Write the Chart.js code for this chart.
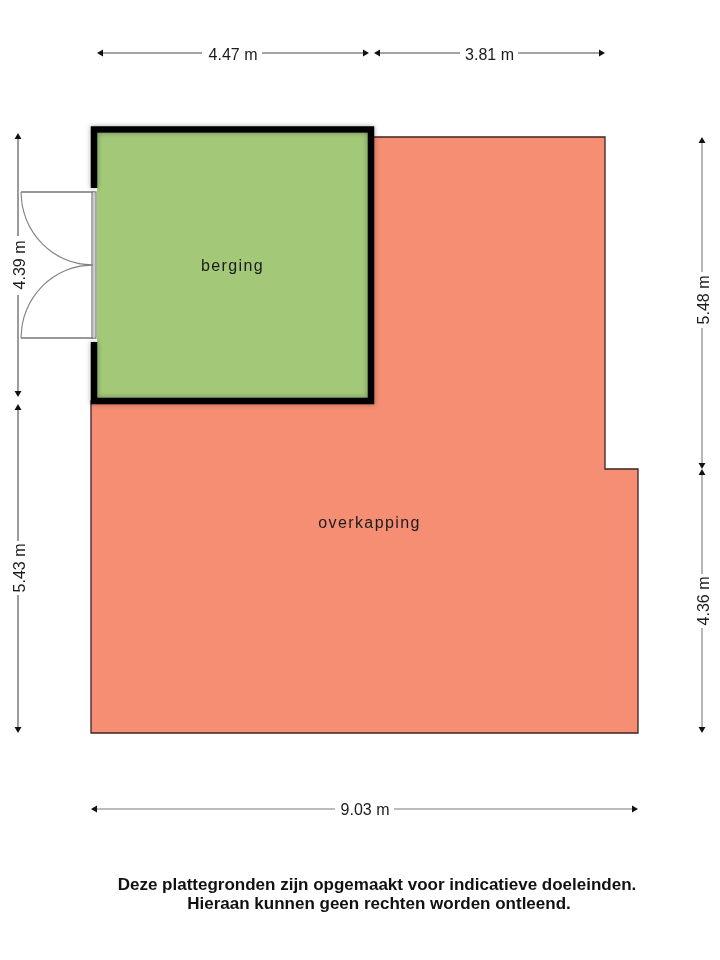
<!DOCTYPE html>
<html>
<head>
<meta charset="utf-8">
<style>
    html, body { margin: 0; padding: 0; background: #fff; }
    canvas { display: block; }
</style>
<script src="https://cdn.jsdelivr.net/npm/chart.js@4"></script>
</head>
<body>
<canvas id="plan" width="720" height="960"></canvas>
<script>
// room outlines (plan units = picture pixels)
const overkappingX = [371, 605, 605, 638, 638, 91, 91, 371, 371];
const overkappingY = [137, 137, 469, 469, 733, 733, 401, 401, 137];
const bergingX = [97, 368, 368, 97, 97];
const bergingY = [133, 133, 398, 398, 133];
const wallX = [94, 94, 371, 371, 94, 94];
const wallY = [188, 129.5, 129.5, 401, 401, 342];
const frameX = [92, 96, 96, 92, 92];
const frameY = [192, 192, 338, 338, 192];
const frameMidX = [94, 94];
const frameMidY = [192, 338];

// door leaves and swings
const doorTopX = [93, 21, 22.4, 26.5, 33.2, 42.1, 53, 65.4, 79, 93];
const doorTopY = [192, 192, 206.2, 220, 232.6, 243.6, 252.7, 259.5, 263.6, 265];
const doorBottomX = [93, 21, 22.4, 26.5, 33.2, 42.1, 53, 65.4, 79, 93];
const doorBottomY = [338, 338, 323.8, 310, 297.4, 286.4, 277.3, 270.5, 266.4, 265];

// dimension lines: each one runs from an arrow tip to the gap round its label
const dimStartX = [97, 369, 374, 605, 18, 18, 18, 18, 702, 702, 702, 702, 91, 638];
const dimStartY = [53, 53, 53, 53, 133, 397, 404, 733, 137, 469, 469, 733, 809, 809];
const dimEndX = [202, 262, 460, 518, 18, 18, 18, 18, 702, 702, 702, 702, 335, 394];
const dimEndY = [53, 53, 53, 53, 236, 295, 541, 595, 272, 328, 574, 628, 809, 809];

// texts
const dimLabels = ["4.47 m", "3.81 m", "4.39 m", "5.43 m", "5.48 m", "4.36 m", "9.03 m"];
const dimLabelX = [233, 489.5, 21, 21, 705, 705, 365];
const dimLabelY = [55.5, 55.5, 265, 568, 300, 601, 811];
const dimLabelTurn = [0, 0, -90, -90, -90, -90, 0];
const roomLabels = ["berging", "overkapping"];
const roomLabelX = [232.5, 369.5];
const roomLabelY = [267, 524];
const noteLines = ["Deze plattegronden zijn opgemaakt voor indicatieve doeleinden.", "Hieraan kunnen geen rechten worden ontleend."];
const noteX = [377, 379];
const noteY = [885, 904];

const ARROW = 4;
const DIM_DARK = "#4a4a4a";
const DIM_LIGHT = "#7a7a7a";

function points(xs, ys) {
    return xs.map((x, i) => ({ x: x, y: ys[i] }));
}

function shape(xs, ys, fillColor, lineColor, lineWidth, extra) {
    return Object.assign({
        data: points(xs, ys),
        showLine: true,
        fill: fillColor ? "shape" : false,
        backgroundColor: fillColor || "transparent",
        borderColor: lineColor,
        borderWidth: lineWidth,
        pointRadius: 0,
        tension: 0
    }, extra || {});
}

function swing(xs, ys) {
    // first stretch is the straight leaf, the rest is the curved swing
    return [
        shape(xs.slice(0, 2), ys.slice(0, 2), null, "#777777", 1.3),
        shape(xs.slice(1), ys.slice(1), null, "#808080", 1.1, { tension: 0.3 })
    ];
}

function dimension(i) {
    const dx = dimEndX[i] - dimStartX[i];
    const dy = dimEndY[i] - dimStartY[i];
    const len = Math.hypot(dx, dy);
    // the triangle is centred on its point, so pull it in to keep the tip where it was read
    const head = {
        x: dimStartX[i] + dx / len * ARROW,
        y: dimStartY[i] + dy / len * ARROW
    };
    const turn = Math.atan2(dy, dx) * 180 / Math.PI - 90;
    return {
        data: [head, { x: dimEndX[i], y: dimEndY[i] }],
        showLine: true,
        fill: false,
        borderColor: dimStartX[i] >= 702 || dimStartY[i] >= 809 ? DIM_LIGHT : DIM_DARK,
        borderWidth: 1.1,
        backgroundColor: "#111",
        pointBackgroundColor: "#111",
        pointBorderWidth: 0,
        pointStyle: "triangle",
        pointRadius: [ARROW, 0],
        pointRotation: [turn, 0],
        tension: 0
    };
}

const planDatasets = [
    shape(overkappingX, overkappingY, "#F58E72", "#3b2620", 1.3),
    shape(bergingX, bergingY, "#A2C878", "#A2C878", 0),
    shape(frameX, frameY, "#f4f4f4", "#808080", 1.3),
    shape(frameMidX, frameMidY, null, "#c4c4c4", 1),
    ...swing(doorTopX, doorTopY),
    ...swing(doorBottomX, doorBottomY),
    shape(wallX, wallY, null, "#000000", 6.5, { borderCapStyle: "butt", borderJoinStyle: "miter", wallShadow: true })
];
dimStartX.forEach((x, i) => planDatasets.push(dimension(i)));

// keep the drawing order as listed above
planDatasets.forEach((set, i) => { set.order = planDatasets.length - i; });

const wallShadow = {
    id: "wallShadow",
    beforeDatasetDraw(chart, args) {
        if (chart.data.datasets[args.index].wallShadow) {
            chart.ctx.save();
            chart.ctx.shadowColor = "rgba(0,0,0,0.35)";
            chart.ctx.shadowBlur = 5;
        }
    },
    afterDatasetDraw(chart, args) {
        if (chart.data.datasets[args.index].wallShadow) {
            chart.ctx.restore();
        }
    }
};

const planTexts = {
    id: "planTexts",
    afterDatasetsDraw(chart) {
        const { ctx, scales } = chart;
        function put(text, x, y, font, color, spacing, turn) {
            ctx.save();
            ctx.translate(scales.x.getPixelForValue(x), scales.y.getPixelForValue(y));
            ctx.rotate((turn || 0) * Math.PI / 180);
            ctx.font = font;
            ctx.fillStyle = color;
            ctx.letterSpacing = spacing;
            ctx.textAlign = "center";
            ctx.textBaseline = "middle";
            ctx.fillText(text, 0, 0);
            ctx.restore();
        }
        dimLabels.forEach((t, i) => put(t, dimLabelX[i], dimLabelY[i], "16px 'Liberation Sans'", "#1c1c1c", "0px", dimLabelTurn[i]));
        roomLabels.forEach((t, i) => put(t, roomLabelX[i], roomLabelY[i], "16px 'Liberation Sans'", "#1c1c1c", "1.4px", 0));
        noteLines.forEach((t, i) => put(t, noteX[i], noteY[i], "bold 17px 'Liberation Sans'", "#111", "0px", 0));
    }
};

new Chart(document.getElementById("plan"), {
    type: "scatter",
    data: { datasets: planDatasets },
    options: {
        responsive: false,
        animation: false,
        layout: { padding: 0, autoPadding: false },
        plugins: {
            legend: { display: false },
            title: { display: false },
            tooltip: { enabled: false }
        },
        scales: {
            x: { type: "linear", min: 0, max: 720, display: false },
            y: { type: "linear", min: 0, max: 960, reverse: true, display: false }
        }
    },
    plugins: [wallShadow, planTexts]
});
</script>
</body>
</html>
